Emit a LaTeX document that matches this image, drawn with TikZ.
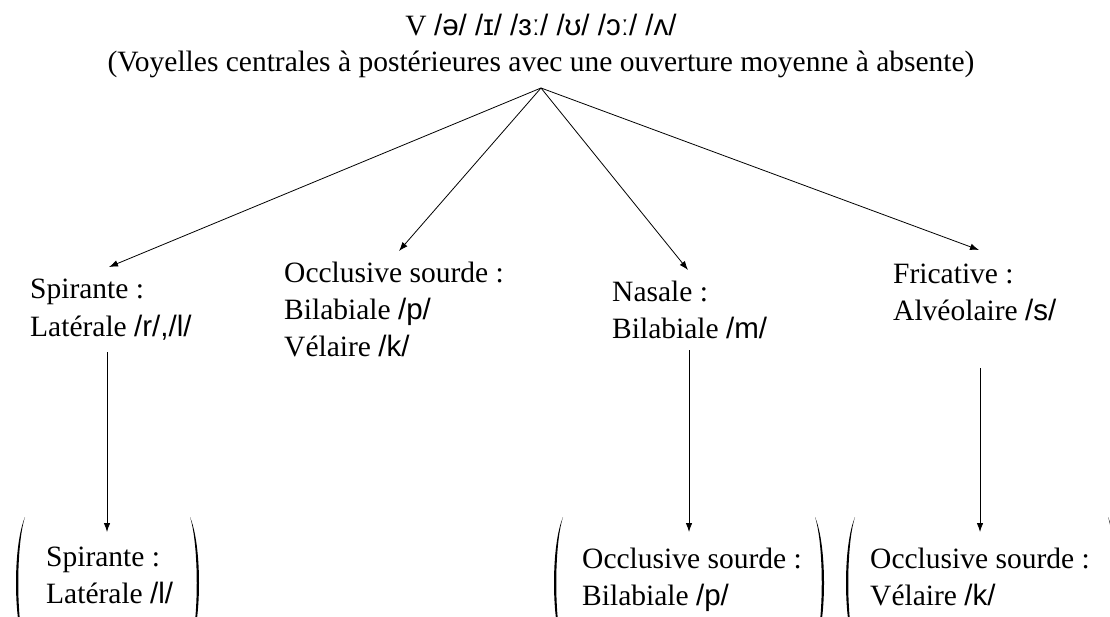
\documentclass[tikz,border=0pt]{standalone}
\usepackage{fontspec}
\setmainfont{Liberation Serif}
\newfontfamily\ipa{Liberation Sans}
\usetikzlibrary{arrows.meta}
\begin{document}
\begin{tikzpicture}[x=1pt,y=-1pt,
  lbl/.style={font=\fontsize{29.5}{37}\selectfont, align=left, inner sep=0pt, anchor=base west},
  ttl/.style={font=\fontsize{29.5}{36}\selectfont, align=center, inner sep=0pt, anchor=base},
  conn/.style={-{Latex[length=9pt,width=6.5pt]}, line width=0.8pt},
  lpar/.pic={\fill (0,0) .. controls (-12,28) and (-12,104) .. (0,132)
                   .. controls (-9,104) and (-9,28) .. cycle;},
  rpar/.pic={\fill (0,0) .. controls (12,28) and (12,104) .. (0,132)
                   .. controls (9,104) and (9,28) .. cycle;}]
\useasboundingbox (0,0) rectangle (1110,617);

% root: the vowel group (multi-line nodes sit on their last baseline)
\node[ttl] (root) at (541,72) {V {\ipa/ə/ /ɪ/ /ɜː/ /ʊ/ /ɔː/ /ʌ/}\\
  (Voyelles centrales à postérieures avec une ouverture moyenne à absente)};
\coordinate (apex) at (541,88);

% first row of consonant classes
\node[lbl] (spir) at (30,336) {Spirante :\\ Latérale {\ipa/r/,/l/}};
\node[lbl] (occl) at (284,356) {Occlusive sourde :\\ Bilabiale {\ipa/p/}\\ Vélaire {\ipa/k/}};
\node[lbl] (nas) at (612,338) {Nasale :\\ Bilabiale {\ipa/m/}};
\node[lbl] (fric) at (893,320) {Fricative :\\ Alvéolaire {\ipa/s/}};

\coordinate (spir-in) at (109,267);
\coordinate (occl-in) at (399,251);
\coordinate (nas-in) at (688,270);
\coordinate (fric-in) at (979,250);

\draw[conn] (apex) -- (spir-in);
\draw[conn] (apex) -- (occl-in);
\draw[conn] (apex) -- (nas-in);
\draw[conn] (apex) -- (fric-in);

% second row, bracketed
\node[lbl] (spirB) at (46,603) {Spirante :\\ Latérale {\ipa/l/}};
\node[lbl] (occB) at (582,605) {Occlusive sourde :\\ Bilabiale {\ipa/p/}};
\node[lbl] (velB) at (870,605) {Occlusive sourde :\\ Vélaire {\ipa/k/}};

\pic at (25,517) {lpar};
\pic at (190,517) {rpar};
\pic at (563,517) {lpar};
\pic at (815,517) {rpar};
\pic at (855,517) {lpar};
\pic at (1108,517) {rpar};

\coordinate (spir-out) at (107,352);
\coordinate (nas-out) at (689,350);
\coordinate (fric-out) at (980,368);
\coordinate (spirB-in) at (107,532);
\coordinate (occB-in) at (689,532);
\coordinate (velB-in) at (980,532);

\draw[conn] (spir-out) -- (spirB-in);
\draw[conn] (nas-out) -- (occB-in);
\draw[conn] (fric-out) -- (velB-in);
\end{tikzpicture}
\end{document}
